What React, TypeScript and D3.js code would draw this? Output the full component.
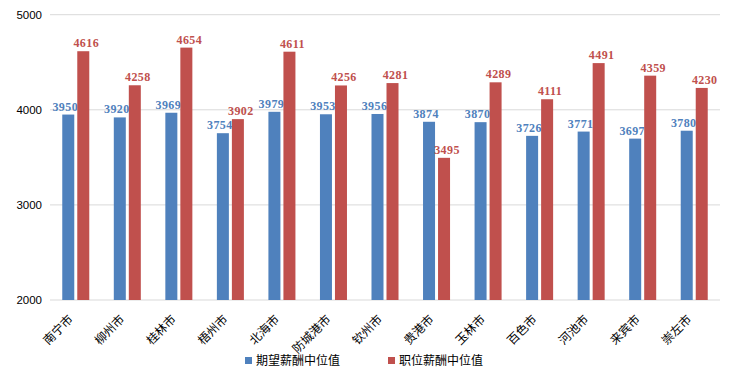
import React from "react";
import * as d3 from "d3";

const categories = ["南宁市", "柳州市", "桂林市", "梧州市", "北海市", "防城港市", "钦州市", "贵港市", "玉林市", "百色市", "河池市", "来宾市", "崇左市"];
const seriesNames = ["期望薪酬中位值", "职位薪酬中位值"];
const expected = [3950, 3920, 3969, 3754, 3979, 3953, 3956, 3874, 3870, 3726, 3771, 3697, 3780];
const offered = [4616, 4258, 4654, 3902, 4611, 4256, 4281, 3495, 4289, 4111, 4491, 4359, 4230];
const yTicks = [2000, 3000, 4000, 5000];
const colors = ["#4F81BD", "#C0504D"];

const W = 741, H = 376;
const left = 50, right = 720, top = 14.7, bottom = 300;

export default function App() {
  const x0 = d3.scaleBand<string>().domain(categories).range([left, right]).padding(0);
  const x1 = d3.scaleBand<string>().domain(seriesNames).range([0, x0.bandwidth()]).paddingInner(0.2).paddingOuter(0.817);
  const y = d3.scaleLinear().domain([2000, 5000]).range([bottom, top]);
  const series = [expected, offered];
  const labelShift = [-3, 3];

  return (
    <div style={{ position: "absolute", left: 0, top: 0 }}>
      <svg width={W} height={H} style={{ display: "block", background: "#fff" }}>
        {yTicks.map((t) => (
          <g key={t}>
            <line x1={left} x2={right} y1={y(t)} y2={y(t)} stroke="#d9d9d9" strokeWidth={1} />
            <text x={42} y={y(t)} dy="0.35em" textAnchor="end" fontFamily="Liberation Sans, Arial, sans-serif" fontSize={11.5} fill="#000">{t}</text>
          </g>
        ))}
        {categories.map((c, i) => (
          <g key={c} transform={`translate(${x0(c)},0)`}>
            {series.map((s, j) => {
              const bx = x1(seriesNames[j])!;
              const bw = x1.bandwidth();
              return (
                <g key={j}>
                  <rect x={bx} y={y(s[i])} width={bw} height={bottom - y(s[i])} fill={colors[j]} />
                  <text x={bx + bw / 2 + labelShift[j]} y={y(s[i]) - 4} textAnchor="middle" fontFamily="Liberation Serif, serif" fontWeight="bold" fontSize={12} letterSpacing={0.4} fill={colors[j]}>{s[i]}</text>
                </g>
              );
            })}
          </g>
        ))}
        {categories.map((c) => {
          const cx = x0(c)! + x0.bandwidth() / 2;
          return (
            <text key={c} transform={`translate(${cx - 2},${320}) rotate(-45)`} textAnchor="end" fontFamily="Noto Sans CJK SC, sans-serif" fontSize={12} fill="#000">{c}</text>
          );
        })}
        {seriesNames.map((n, j) => {
          const lx = [245, 388][j];
          return (
            <g key={n}>
              <rect x={lx} y={357} width={7} height={7} fill={colors[j]} />
              <text x={lx + 11} y={361} dy="0.35em" fontFamily="Noto Sans CJK SC, sans-serif" fontSize={12} fill="#000">{n}</text>
            </g>
          );
        })}
      </svg>
    </div>
  );
}
